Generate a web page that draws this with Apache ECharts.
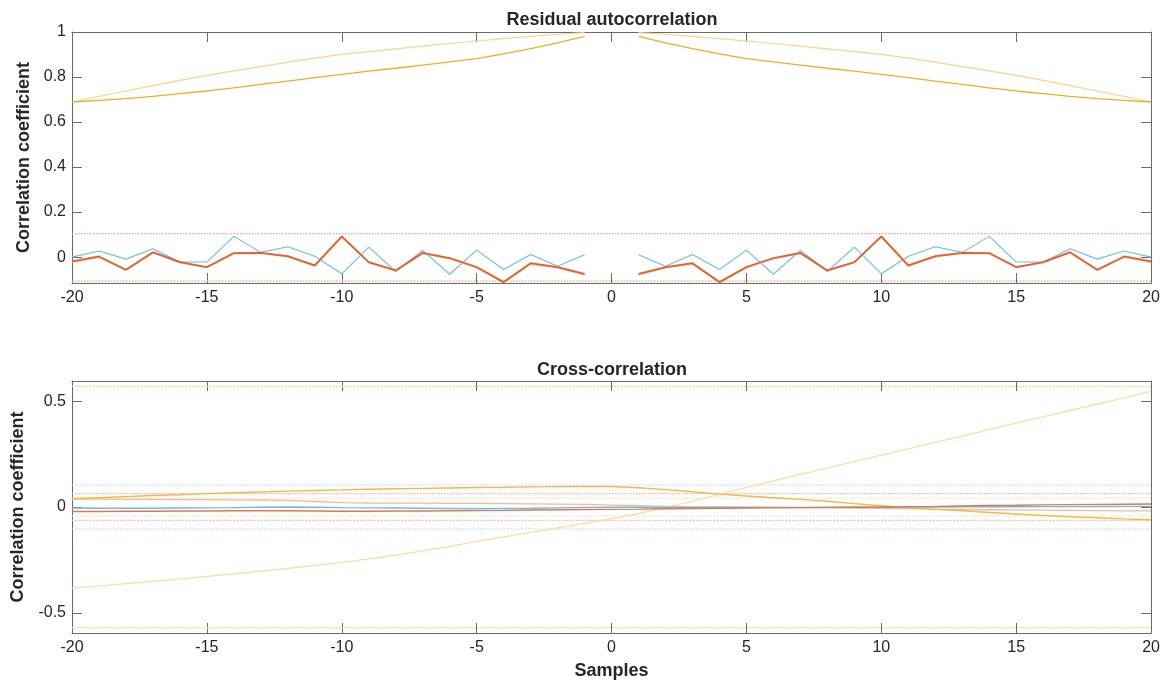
<!DOCTYPE html>
<html>
<head>
<meta charset="utf-8">
<script src="https://cdn.jsdelivr.net/npm/echarts@6/dist/echarts.min.js"></script>
<style>
  html, body { margin: 0; padding: 0; background: #fff; }
  #chart { width: 1163px; height: 681px; }
</style>
</head>
<body>
<div id="chart"></div>
<script>
// Lags shared by both panels
const lags = [-20,-19,-18,-17,-16,-15,-14,-13,-12,-11,-10,-9,-8,-7,-6,-5,-4,-3,-2,-1,0,
              1,2,3,4,5,6,7,8,9,10,11,12,13,14,15,16,17,18,19,20];

// Residual autocorrelation (lag 0 left out)
const residBlue = [0.000,0.027,-0.009,0.037,-0.022,-0.022,0.092,0.021,0.046,0.004,-0.074,0.044,-0.064,0.030,-0.076,0.031,-0.055,0.012,-0.041,0.010,null,
                   0.010,-0.041,0.012,-0.055,0.031,-0.076,0.030,-0.064,0.044,-0.074,0.004,0.046,0.021,0.092,-0.022,-0.022,0.037,-0.009,0.027,0.000];
const residOrange = [-0.019,0.003,-0.056,0.022,-0.022,-0.044,0.018,0.019,0.004,-0.037,0.092,-0.022,-0.059,0.019,-0.004,-0.044,-0.111,-0.027,-0.044,-0.074,null,
                     -0.074,-0.044,-0.027,-0.111,-0.044,-0.004,0.019,-0.059,-0.022,0.092,-0.037,0.004,0.019,0.018,-0.044,-0.022,0.022,-0.056,0.003,-0.019];
const residOrangeLight = [-0.023,0.000,-0.058,0.019,-0.024,-0.046,0.016,0.017,0.002,-0.039,0.090,-0.024,-0.061,0.016,-0.007,-0.047,-0.113,-0.030,-0.047,-0.078,null,
                          -0.078,-0.047,-0.030,-0.113,-0.047,-0.007,0.016,-0.061,-0.024,0.090,-0.039,0.002,0.017,0.016,-0.046,-0.024,0.019,-0.058,0.000,-0.023];
const residYellow = [0.689,0.696,0.704,0.714,0.726,0.738,0.752,0.767,0.782,0.797,0.812,0.826,0.839,0.853,0.867,0.882,0.903,0.926,0.952,0.981,null,
                     0.981,0.952,0.926,0.903,0.882,0.867,0.853,0.839,0.826,0.812,0.797,0.782,0.767,0.752,0.738,0.726,0.714,0.704,0.696,0.689];
const residYellowLight = [0.689,0.714,0.738,0.762,0.785,0.807,0.827,0.846,0.866,0.884,0.901,0.913,0.925,0.937,0.949,0.960,0.971,0.981,0.990,0.997,null,
                          0.997,0.990,0.981,0.971,0.960,0.949,0.937,0.925,0.913,0.901,0.884,0.866,0.846,0.827,0.807,0.785,0.762,0.738,0.714,0.689];
const residBounds = [0.104, -0.107];

// Cross-correlation between residuals and inputs
const xcorrBlue = [-0.005,-0.006,-0.006,-0.006,-0.005,-0.004,-0.003,-0.001,0.000,-0.001,-0.003,-0.004,-0.005,-0.006,-0.007,-0.008,-0.007,-0.006,-0.004,-0.002,-0.001,
                   -0.001,-0.002,-0.002,-0.002,-0.002,-0.002,-0.002,-0.002,-0.001,-0.001,0.000,0.000,0.001,0.001,0.001,0.002,0.002,0.002,0.003,0.003];
const xcorrOrange = [-0.021,-0.021,-0.020,-0.020,-0.019,-0.019,-0.018,-0.017,-0.018,-0.019,-0.020,-0.020,-0.019,-0.019,-0.018,-0.017,-0.016,-0.014,-0.013,-0.012,-0.011,
                     -0.010,-0.008,-0.007,-0.006,-0.005,-0.004,-0.003,-0.002,-0.001,0.000,0.002,0.003,0.005,0.007,0.008,0.010,0.011,0.012,0.013,0.014];
const xcorrOrangeLight = [0.037,0.037,0.036,0.036,0.035,0.035,0.034,0.033,0.031,0.026,0.021,0.019,0.018,0.018,0.017,0.017,0.016,0.015,0.014,0.012,0.009,
                          0.006,0.003,0.001,0.000,-0.001,-0.002,-0.003,-0.004,-0.005,-0.006,-0.008,-0.010,-0.012,-0.013,-0.014,-0.015,-0.016,-0.017,-0.018,-0.018];
const xcorrYellow = [0.039,0.044,0.049,0.054,0.058,0.063,0.067,0.071,0.075,0.078,0.081,0.084,0.086,0.088,0.090,0.092,0.093,0.095,0.096,0.097,0.097,
                     0.091,0.082,0.072,0.061,0.052,0.044,0.036,0.027,0.016,0.006,-0.003,-0.011,-0.018,-0.026,-0.033,-0.040,-0.046,-0.051,-0.056,-0.060];
const xcorrYellowLight = [-0.383,-0.373,-0.362,-0.351,-0.340,-0.328,-0.316,-0.303,-0.290,-0.276,-0.262,-0.245,-0.227,-0.207,-0.186,-0.163,-0.141,-0.120,-0.099,-0.077,-0.055,
                          -0.030,-0.003,0.027,0.060,0.092,0.123,0.154,0.184,0.215,0.245,0.275,0.305,0.335,0.366,0.396,0.426,0.456,0.486,0.516,0.546];
const xcorrBlueBound = 0.104;
const xcorrRedBound = 0.063;
const xcorrLightBound = 0.042;
const xcorrYellowBound = 0.570;

// Tick labels
const xTicks = [-20,-15,-10,-5,0,5,10,15,20];
const residYTicks = [0,0.2,0.4,0.6,0.8,1];
const xcorrYTicks = [-0.5,0,0.5];

const FONT = '"Liberation Sans", Arial, sans-serif';
const AXIS = '#6a6a6a';
const TEXT = '#262626';
const TICK_SIZE = 16;
const LABEL_SIZE = 18;

const pairs = (vals) => lags.map((l, i) => [l, vals[i] === null ? '-' : vals[i]]);
const hline = (v) => [[lags[0], v], [lags[lags.length - 1], v]];

function line(name, vals, color, width, grid) {
  return {
    name, type: 'line', data: pairs(vals),
    xAxisIndex: grid * 2, yAxisIndex: grid * 2,
    symbol: 'none', connectNulls: false, silent: true,
    lineStyle: { color, width },
    z: 3
  };
}
function bound(name, v, color, grid) {
  return {
    name, type: 'line', data: hline(v),
    xAxisIndex: grid * 2, yAxisIndex: grid * 2,
    symbol: 'none', silent: true,
    lineStyle: { color, width: 1.2, type: [1.5, 1.5] },
    z: 2
  };
}

function xAxisPair(grid, withName) {
  const base = {
    type: 'value', gridIndex: grid, min: -20, max: 20, interval: 5,
    splitLine: { show: false },
    axisLine: { show: true, onZero: false, lineStyle: { color: AXIS, width: 1 } },
    axisTick: { show: true, inside: true, length: 10, lineStyle: { color: AXIS } }
  };
  const bottom = Object.assign({}, base, {
    position: 'bottom',
    axisLabel: { show: true, color: TEXT, fontFamily: FONT, fontSize: TICK_SIZE, margin: 7,
                 customValues: xTicks, formatter: (v) => String(v) }
  });
  if (withName) {
    Object.assign(bottom, {
      name: 'Samples', nameLocation: 'middle', nameGap: 29,
      nameTextStyle: { color: TEXT, fontFamily: FONT, fontSize: LABEL_SIZE, fontWeight: 'bold' }
    });
  }
  const top = Object.assign({}, base, { position: 'top', axisLabel: { show: false } });
  return [bottom, top];
}

function yAxisPair(grid, min, max, ticks, nameGap) {
  const base = {
    type: 'value', gridIndex: grid, min, max,
    splitLine: { show: false },
    axisLine: { show: true, onZero: false, lineStyle: { color: AXIS, width: 1 } },
    axisTick: { show: true, inside: true, length: 10, customValues: ticks, lineStyle: { color: AXIS } }
  };
  const left = Object.assign({}, base, {
    position: 'left',
    name: 'Correlation coefficient', nameLocation: 'middle', nameGap,
    nameTextStyle: { color: TEXT, fontFamily: FONT, fontSize: LABEL_SIZE, fontWeight: 'bold' },
    axisLabel: { show: true, color: TEXT, fontFamily: FONT, fontSize: TICK_SIZE, margin: 6,
                 customValues: ticks, formatter: (v) => String(v) }
  });
  const right = Object.assign({}, base, { position: 'right', axisLabel: { show: false } });
  return [left, right];
}

// Panel titles centred over the plot areas
function panelTitle(text, cy) {
  return {
    type: 'text', x: 612, y: cy, silent: true,
    style: { text, fill: TEXT, font: 'bold ' + LABEL_SIZE + 'px ' + FONT,
             textAlign: 'center', textVerticalAlign: 'middle' }
  };
}

const chart = echarts.init(document.getElementById('chart'), null, { renderer: 'canvas' });

chart.setOption({
  animation: false,
  backgroundColor: '#ffffff',
  graphic: [
    panelTitle('Residual autocorrelation', 20),
    panelTitle('Cross-correlation', 370)
  ],
  grid: [
    { left: 72, width: 1080, top: 32, height: 251 },
    { left: 72, width: 1080, top: 381, height: 252 }
  ],
  xAxis: [...xAxisPair(0, false), ...xAxisPair(1, true)],
  yAxis: [
    ...yAxisPair(0, -0.115, 1, residYTicks, 36),
    ...yAxisPair(1, -0.595, 0.595, xcorrYTicks, 43)
  ],
  series: [
    // Residual autocorrelation panel
    bound('bound+', residBounds[0], '#E8A48C', 0),
    bound('bound-', residBounds[1], '#E8A48C', 0),
    line('yellow-light', residYellowLight, '#FBD48A', 1.2, 0),
    line('yellow', residYellow, '#EAB022', 1.3, 0),
    line('blue', residBlue, '#66BDF0', 1.1, 0),
    line('orange-light', residOrangeLight, '#F6B48E', 1.6, 0),
    line('orange', residOrange, '#E0622A', 1.8, 0),
    // Cross-correlation panel
    bound('blue+', xcorrBlueBound, '#A9D3F0', 1),
    bound('blue-', -xcorrBlueBound, '#A9D3F0', 1),
    bound('red+', xcorrRedBound, '#EDB4A0', 1),
    bound('red-', -xcorrRedBound, '#EDB4A0', 1),
    bound('light+', xcorrLightBound, '#FAD9BE', 1),
    bound('light-', -xcorrLightBound, '#FAD9BE', 1),
    bound('yellow+', xcorrYellowBound, '#F5CE78', 1),
    bound('yellow-', -xcorrYellowBound, '#F5CE78', 1),
    line('x-yellow-light', xcorrYellowLight, '#FDD9A0', 1.2, 1),
    line('x-orange-light', xcorrOrangeLight, '#F7B98F', 1.3, 1),
    line('x-yellow', xcorrYellow, '#EEBA45', 1.4, 1),
    line('x-blue', xcorrBlue, '#66BDF0', 1.4, 1),
    line('x-orange', xcorrOrange, '#E0784D', 1.4, 1)
  ]
});
</script>
</body>
</html>
